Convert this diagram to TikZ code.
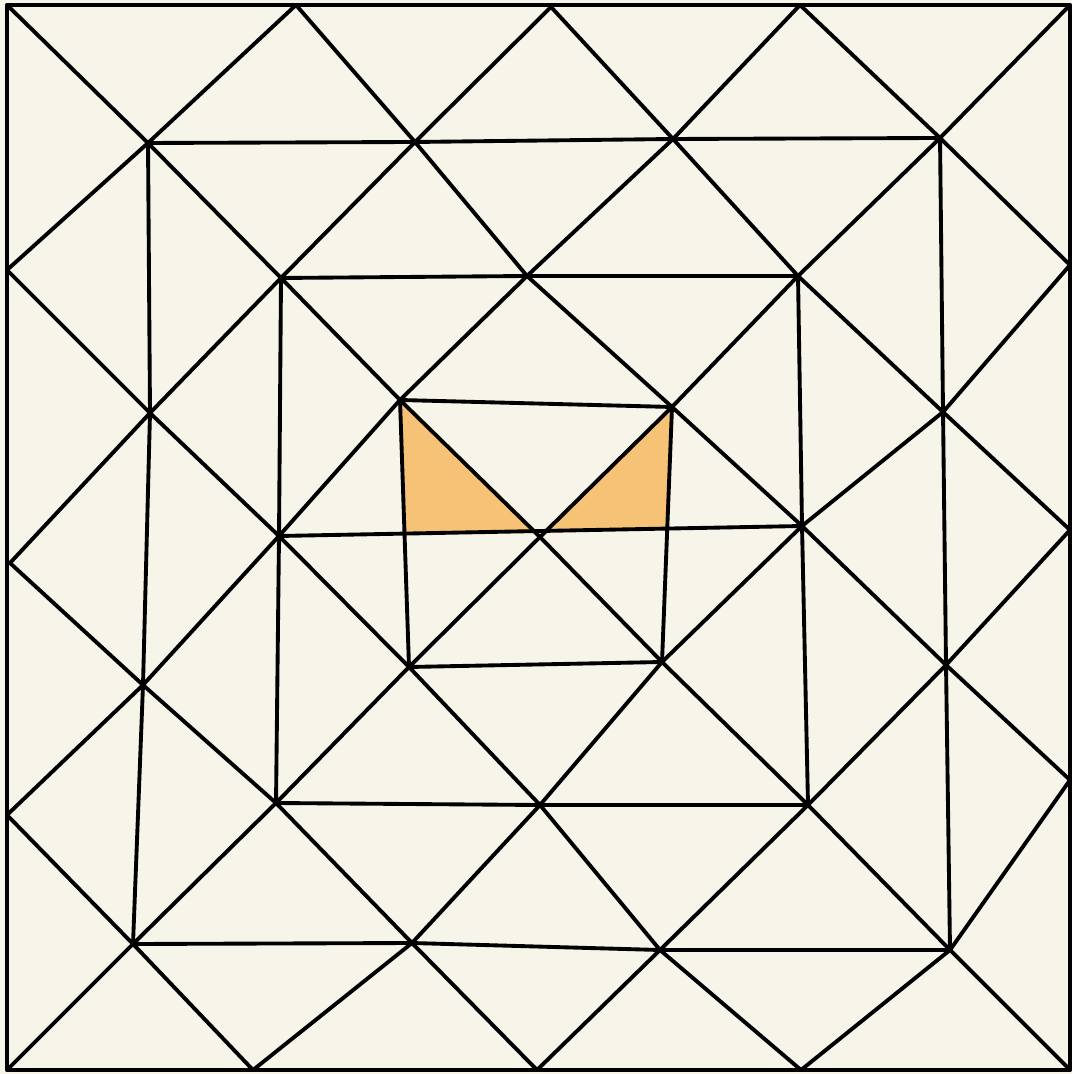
\documentclass[tikz,border=0pt]{standalone}
\definecolor{paper}{HTML}{F7F5E9}
\definecolor{patch}{HTML}{F5C276}
\tikzset{mesh/.style={line width=1.1pt, line cap=round, line join=round}}
\begin{document}
\begin{tikzpicture}[x=0.01cm,y=-0.01cm]
\fill[paper] (0,0) rectangle (1072,1074);
\useasboundingbox (0,0) rectangle (1072,1074);

% boundary points
\coordinate (c1) at (7,5);    \coordinate (c2) at (1070,5);
\coordinate (c3) at (1070,1070); \coordinate (c4) at (7,1070);
\coordinate (t1) at (296,5);  \coordinate (t2) at (551,7);  \coordinate (t3) at (800,5);
\coordinate (r1) at (1070,265); \coordinate (r2) at (1070,530); \coordinate (r3) at (1070,780);
\coordinate (b1) at (253,1070); \coordinate (b2) at (537,1070); \coordinate (b3) at (801,1070);
\coordinate (l1) at (7,270);  \coordinate (l2) at (10,563); \coordinate (l3) at (7,815);

% first ring
\coordinate (a1) at (148,143);  \coordinate (a2) at (415,142);  \coordinate (a3) at (673,139);
\coordinate (a4) at (940,138);  \coordinate (a5) at (943,412);  \coordinate (a6) at (946,665);
\coordinate (a7) at (950,950);  \coordinate (a8) at (660,950);  \coordinate (a9) at (412,943);
\coordinate (a10) at (133,944); \coordinate (a11) at (143,685); \coordinate (a12) at (150,413);

% second ring
\coordinate (m1) at (281,278); \coordinate (m2) at (527,276); \coordinate (m3) at (798,276);
\coordinate (m4) at (802,526); \coordinate (m5) at (808,805); \coordinate (m6) at (540,805);
\coordinate (m7) at (276,803); \coordinate (m8) at (279,536);

% inner ring and centre
\coordinate (n1) at (400,400); \coordinate (n2) at (672,407);
\coordinate (n3) at (662,662); \coordinate (n4) at (409,667);
\coordinate (o) at (540,537);
\coordinate (p1) at (405,534); \coordinate (p2) at (667,528);
\coordinate (q1) at (535,532); \coordinate (q2) at (545,532);

% shaded cells
\fill[patch] (n1) -- (q1) -- (p1) -- cycle;
\fill[patch] (n2) -- (q2) -- (p2) -- cycle;

\begin{scope}[mesh]
\draw (c1) -- (c2) -- (c3) -- (c4) -- cycle;
\draw (a1) -- (a2) -- (a3) -- (a4) -- (a5) -- (a6) -- (a7) -- (a8) -- (a9) -- (a10) -- (a11) -- (a12) -- cycle;
\draw (m1) -- (m2) -- (m3) -- (m4) -- (m5) -- (m6) -- (m7) -- (m8) -- cycle;
\draw (n1) -- (n2) -- (n3) -- (n4) -- cycle;
\draw (m8) -- (m4);
\draw (n1) -- (o) -- (n3);
\draw (n2) -- (o) -- (n4);

% outer band
\foreach \p/\q in {c1/a1,t1/a1,t1/a2,t2/a2,t2/a3,t3/a3,t3/a4,c2/a4,
                   r1/a4,r1/a5,r2/a5,r2/a6,r3/a6,r3/a7,c3/a7,
                   b3/a7,b3/a8,b2/a8,b2/a9,b1/a9,b1/a10,c4/a10,
                   l3/a10,l3/a11,l2/a11,l2/a12,l1/a12,l1/a1}
  \draw (\p) -- (\q);

% middle band
\foreach \p/\q in {a1/m1,a2/m1,a2/m2,a3/m2,a3/m3,a4/m3,
                   a5/m3,a5/m4,a6/m4,a6/m5,a7/m5,
                   a8/m5,a8/m6,a9/m6,a9/m7,a10/m7,
                   a11/m7,a11/m8,a12/m8,a12/m1}
  \draw (\p) -- (\q);

% inner band
\foreach \p/\q in {m1/n1,m2/n1,m2/n2,m3/n2,m4/n2,m4/n3,
                   m5/n3,m6/n3,m6/n4,m7/n4,m8/n4,m8/n1}
  \draw (\p) -- (\q);
\end{scope}
\end{tikzpicture}
\end{document}
